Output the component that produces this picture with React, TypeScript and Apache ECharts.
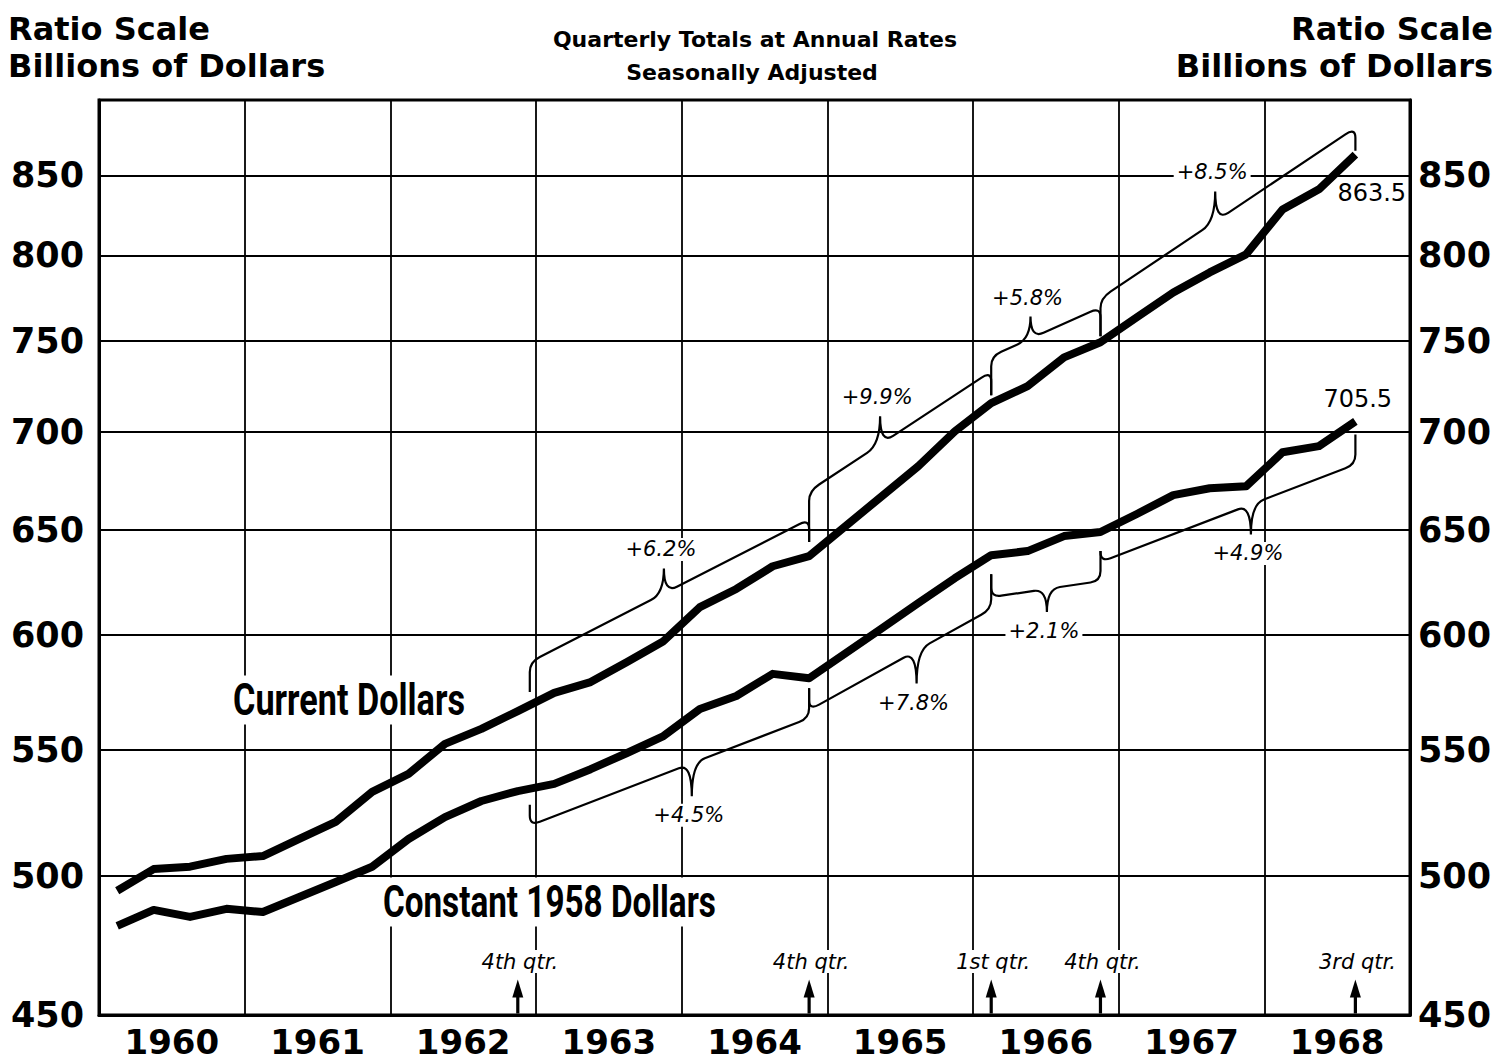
import React, { useEffect, useRef } from 'react';
import * as echarts from 'echarts';

// ---------------- data ----------------
const years = [1960, 1961, 1962, 1963, 1964, 1965, 1966, 1967, 1968];
const yTickValues = [450, 500, 550, 600, 650, 700, 750, 800, 850];
const yMin = 450;
const yMax = 900;

// quarterly totals at annual rates, billions of dollars (1960 Q1 .. 1968 Q3)
const currentDollars = [
  494.4, 502.6, 503.5, 506.5,
  507.6, 514.2, 520.9, 532.9,
  540.2, 552.6, 558.9, 566.5,
  574.4, 579.1, 588.0, 597.3,
  612.9, 621.4, 632.2, 637.1,
  651.7, 666.7, 682.0, 700.2,
  715.3, 724.6, 740.6, 749.1,
  763.4, 777.9, 789.8, 800.7,
  828.4, 841.1, 863.5,
];
const constantDollars = [
  481.4, 487.3, 484.7, 487.7,
  486.5, 492.1, 497.7, 503.5,
  514.2, 522.8, 529.2, 533.2,
  536.1, 542.1, 548.8, 555.9,
  567.4, 573.0, 582.7, 580.8,
  591.9, 603.2, 614.8, 626.5,
  637.5, 639.5, 646.8, 648.8,
  657.7, 667.2, 670.7, 671.7,
  689.2, 692.4, 705.5,
];

const markQuarterIndex = [11, 19, 24, 27, 34];
const markQuarterText = ['4th qtr.', '4th qtr.', '1st qtr.', '4th qtr.', '3rd qtr.'];

const growthLabels = ['+6.2%', '+9.9%', '+5.8%', '+8.5%', '+4.5%', '+7.8%', '+2.1%', '+4.9%'];
const growthSeries = ['current', 'current', 'current', 'current', 'constant', 'constant', 'constant', 'constant'];
const growthFrom = [11.33, 19, 24, 27, 11.33, 19, 24, 27];
const growthTo = [19, 24, 27, 34, 19, 24, 27, 34];

// brace drawing geometry (pixels): offsets at ends, hook gaps, cusp position and height
const braceGeom = [
  { o1: 43, o2: 37, g1: 13, g2: 14, t: 0.48, ch: 25 },
  { o1: 65, o2: 32, g1: 14, g2: 8, t: 0.39, ch: 28 },
  { o1: 47, o2: 35, g1: 8, g2: 6, t: 0.36, ch: 22 },
  { o1: 44, o2: 27, g1: 6, g2: 4, t: 0.45, ch: 30 },
  { o1: 37, o2: 40, g1: 16, g2: 10, t: 0.58, ch: 33 },
  { o1: 32, o2: 54, g1: 10, g2: 19, t: 0.59, ch: 33 },
  { o1: 42, o2: 49, g1: 19, g2: 19, t: 0.51, ch: 23 },
  { o1: 30, o2: 43, g1: 19, g2: 13, t: 0.59, ch: 30 },
];

// ---------------- helpers ----------------
const xOf = (i: number) => i * 0.25 + 0.125;
const lnAt = (arr: number[], a: number) => {
  const i0 = Math.floor(a);
  const i1 = Math.min(arr.length - 1, Math.ceil(a));
  const f = a - i0;
  return Math.log(arr[i0]) * (1 - f) + Math.log(arr[i1]) * f;
};
const fitScale = (text: string, font: string, target: number) => {
  const c = document.createElement('canvas').getContext('2d');
  if (!c) return 1;
  c.font = font;
  const w = c.measureText(text).width;
  return w > 0 ? target / w : 1;
};

const BOLD = '"DejaVu Sans", "Liberation Sans", sans-serif';

export default function App() {
  const ref = useRef<HTMLDivElement>(null);

  useEffect(() => {
    document.body.style.margin = '0';
    if (!ref.current) return;
    const chart = echarts.init(ref.current, null, { renderer: 'svg' });

    const lnTicks = yTickValues.map((v) => Math.log(v));
    const yLabelFmt = (v: number) => String(Math.round(Math.exp(v)));

    const condFont = 'bold 45px Roboto';
    const curScale = fitScale('Current Dollars', condFont, 232);
    const conScale = fitScale('Constant 1958 Dollars', condFont, 333);

    const textStyle = (text: string, size: number, weight: string, align: string, extra: any = {}) => ({
      text,
      fill: '#000',
      fontSize: size,
      fontFamily: BOLD,
      fontWeight: weight,
      textAlign: align,
      align,
      textVerticalAlign: 'middle',
      verticalAlign: 'middle',
      ...extra,
    });

    const option: any = {
      animation: false,
      backgroundColor: '#fff',
      grid: {
        left: 99,
        top: 100,
        width: 1311,
        height: 915,
        show: true,
        borderColor: '#000',
        borderWidth: 3,
        backgroundColor: 'transparent',
      },
      xAxis: {
        type: 'value',
        min: 0,
        max: 9,
        interval: 1,
        axisLine: { show: true, lineStyle: { color: '#000', width: 3 } },
        axisTick: { show: false },
        axisLabel: {
          customValues: years.map((_, i) => i + 0.5),
          formatter: (v: number) => String(years[Math.floor(v)]),
          fontFamily: BOLD,
          fontWeight: 'bold',
          fontSize: 34,
          lineHeight: 36,
          color: '#000',
          margin: 9,
        },
        splitLine: { show: true, lineStyle: { color: '#000', width: 1.8 } },
      },
      yAxis: [
        {
          type: 'value',
          min: Math.log(yMin),
          max: Math.log(yMax),
          position: 'left',
          axisLine: { show: true, lineStyle: { color: '#000', width: 3 } },
          axisTick: { show: false, customValues: lnTicks },
          axisLabel: {
            customValues: lnTicks,
            formatter: yLabelFmt,
            fontFamily: BOLD,
            fontWeight: 'bold',
            fontSize: 35,
            color: '#000',
            margin: 15,
          },
          splitLine: { show: true, lineStyle: { color: '#000', width: 1.8 } },
        },
        {
          type: 'value',
          min: Math.log(yMin),
          max: Math.log(yMax),
          position: 'right',
          axisLine: { show: true, lineStyle: { color: '#000', width: 3 } },
          axisTick: { show: false, customValues: lnTicks },
          axisLabel: {
            customValues: lnTicks,
            formatter: yLabelFmt,
            fontFamily: BOLD,
            fontWeight: 'bold',
            fontSize: 35,
            color: '#000',
            margin: 8,
          },
          splitLine: { show: false },
        },
      ],
      graphic: [
        { type: 'text', x: 8, y: 29, z: 5, style: textStyle('Ratio Scale', 32, 'bold', 'left') },
        { type: 'text', x: 8, y: 66, z: 5, style: textStyle('Billions of Dollars', 32, 'bold', 'left') },
        { type: 'text', x: 1493, y: 29, z: 5, style: textStyle('Ratio Scale', 32, 'bold', 'right') },
        { type: 'text', x: 1493, y: 66, z: 5, style: textStyle('Billions of Dollars', 32, 'bold', 'right') },
        { type: 'text', x: 755, y: 39, z: 5, style: textStyle('Quarterly Totals at Annual Rates', 22, 'bold', 'center') },
        { type: 'text', x: 752, y: 72, z: 5, style: textStyle('Seasonally Adjusted', 22, 'bold', 'center') },
        {
          type: 'text', x: 230, y: 700, z: 1, scaleX: curScale,
          style: textStyle('Current Dollars', 45, 'bold', 'left', { fontFamily: 'Roboto', backgroundColor: '#fff', padding: [2, 4] }),
        },
        {
          type: 'text', x: 380, y: 902, z: 1, scaleX: conScale,
          style: textStyle('Constant 1958 Dollars', 45, 'bold', 'left', { fontFamily: 'Roboto', backgroundColor: '#fff', padding: [2, 4] }),
        },
      ],
      series: [
        {
          name: 'Current Dollars',
          type: 'line',
          data: currentDollars.map((v, i) => [xOf(i), Math.log(v)]),
          showSymbol: false,
          symbol: 'none',
          z: 3,
          lineStyle: { color: '#000', width: 8, cap: 'butt', join: 'round' },
          endLabel: {
            show: true,
            formatter: () => currentDollars[currentDollars.length - 1].toFixed(1),
            fontFamily: BOLD,
            fontSize: 24,
            color: '#000',
            offset: [-26, 38],
          },
        },
        {
          name: 'Constant 1958 Dollars',
          type: 'line',
          data: constantDollars.map((v, i) => [xOf(i), Math.log(v)]),
          showSymbol: false,
          symbol: 'none',
          z: 3,
          lineStyle: { color: '#000', width: 8, cap: 'butt', join: 'round' },
          endLabel: {
            show: true,
            formatter: () => constantDollars[constantDollars.length - 1].toFixed(1),
            fontFamily: BOLD,
            fontSize: 24,
            color: '#000',
            offset: [-40, -22],
          },
        },
        {
          name: 'growth',
          type: 'custom',
          silent: true,
          z: 4,
          data: growthLabels.map((_, i) => [
            xOf(growthFrom[i]),
            lnAt(growthSeries[i] === 'current' ? currentDollars : constantDollars, growthFrom[i]),
            i,
          ]),
          encode: { x: 0, y: 1 },
          renderItem: (params: any, api: any) => {
            const k = params.dataIndex;
            const g = braceGeom[k];
            const arr = growthSeries[k] === 'current' ? currentDollars : constantDollars;
            const u = growthSeries[k] === 'current' ? -1 : 1;
            const A = api.coord([xOf(growthFrom[k]), lnAt(arr, growthFrom[k])]);
            const B = api.coord([xOf(growthTo[k]), lnAt(arr, growthTo[k])]);
            const A2 = [A[0], A[1] + u * g.o1];
            const B2 = [B[0], B[1] + u * g.o2];
            const slope = (B2[1] - A2[1]) / (B2[0] - A2[0]);
            const r = 10;
            const r2 = 13;
            const M = [A2[0] + g.t * (B2[0] - A2[0]), A2[1] + g.t * (B2[1] - A2[1])];
            const C = [M[0], M[1] + u * g.ch];
            const p = (x: number, y: number) => `${x.toFixed(1)} ${y.toFixed(1)}`;
            const d = [
              'M', p(A[0], A[1] + u * g.g1),
              'L', p(A2[0], A2[1] - u * r),
              'Q', p(A2[0], A2[1]), p(A2[0] + r, A2[1] + slope * r),
              'L', p(M[0] - r2, M[1] - slope * r2),
              'Q', p(M[0], M[1]), p(C[0], C[1]),
              'Q', p(M[0], M[1]), p(M[0] + r2, M[1] + slope * r2),
              'L', p(B2[0] - r, B2[1] - slope * r),
              'Q', p(B2[0], B2[1]), p(B2[0], B2[1] - u * r),
              'L', p(B[0], B[1] + u * g.g2),
            ].join(' ');
            return {
              type: 'group',
              children: [
                {
                  type: 'path',
                  shape: { pathData: d },
                  style: { stroke: '#000', fill: 'none', lineWidth: 2.2 },
                },
                {
                  type: 'text',
                  x: C[0] - 3,
                  y: C[1] + u * 19,
                  style: {
                    text: growthLabels[k],
                    fill: '#000',
                    fontSize: 21,
                    fontFamily: BOLD,
                    fontStyle: 'italic',
                    textAlign: 'center',
                    align: 'center',
                    textVerticalAlign: 'middle',
                    verticalAlign: 'middle',
                    backgroundColor: '#fff',
                    padding: [1, 3],
                  },
                },
              ],
            };
          },
        },
        {
          name: 'quarters',
          type: 'custom',
          silent: true,
          z: 4,
          data: markQuarterIndex.map((i, k) => [xOf(i), Math.log(yMin), k]),
          encode: { x: 0, y: 1 },
          renderItem: (params: any, api: any) => {
            const k = params.dataIndex;
            const base = api.coord([xOf(markQuarterIndex[k]), Math.log(yMin)]);
            const x = base[0];
            const y0 = base[1] - 1.5;
            return {
              type: 'group',
              children: [
                { type: 'rect', shape: { x: x - 1.6, y: y0 - 20, width: 3.2, height: 20 }, style: { fill: '#000' } },
                {
                  type: 'polygon',
                  shape: { points: [[x, y0 - 34], [x - 5.5, y0 - 16], [x + 5.5, y0 - 16]] },
                  style: { fill: '#000' },
                },
                {
                  type: 'text',
                  x: x + 2,
                  y: y0 - 52,
                  style: {
                    text: markQuarterText[k],
                    fill: '#000',
                    fontSize: 21,
                    fontFamily: BOLD,
                    fontStyle: 'italic',
                    textAlign: 'center',
                    align: 'center',
                    textVerticalAlign: 'middle',
                    verticalAlign: 'middle',
                    backgroundColor: '#fff',
                    padding: [1, 3],
                  },
                },
              ],
            };
          },
        },
      ],
    };

    chart.setOption(option);
    return () => chart.dispose();
  }, []);

  return <div ref={ref} style={{ width: 1501, height: 1063 }} />;
}
